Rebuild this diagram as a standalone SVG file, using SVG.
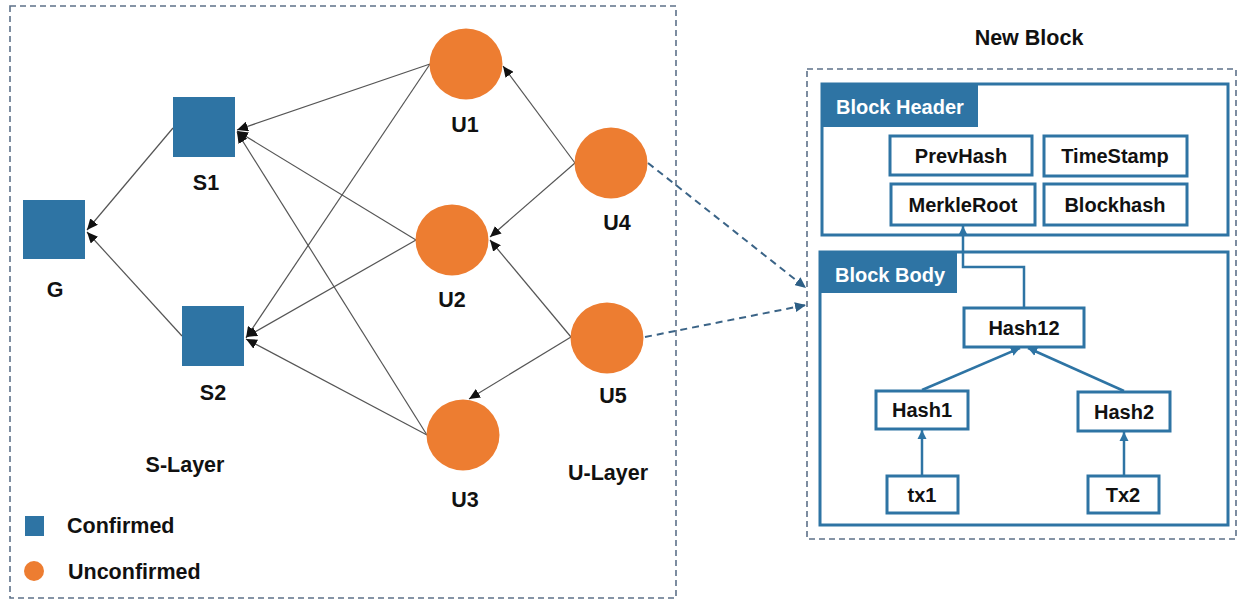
<svg xmlns="http://www.w3.org/2000/svg" width="1238" height="600" viewBox="0 0 1238 600">
  <style>
    .lbl { font-family: "Liberation Sans", Arial, sans-serif; font-weight: bold; font-size: 21.5px; fill: #111; }
    .box-lbl { font-family: "Liberation Sans", Arial, sans-serif; font-weight: bold; font-size: 20px; fill: #111; text-anchor: middle; }
    .tab-lbl { font-family: "Liberation Sans", Arial, sans-serif; font-weight: bold; font-size: 20px; fill: #fff; }
    .frame { fill: none; stroke: #5d7189; stroke-width: 1.6; stroke-dasharray: 6 4; }
    .sq { fill: #2e74a4; }
    .circ { fill: #ed7d31; }
    .panel { fill: #fff; stroke: #2e74a4; stroke-width: 3; }
    .tab { fill: #2e74a4; }
    .field { fill: #fff; stroke: #2e74a4; stroke-width: 3; }
    .edge { fill: none; stroke: #555; stroke-width: 1.2; marker-end: url(#ah); }
    .link { fill: none; stroke: #3b6487; stroke-width: 2; stroke-dasharray: 7 5; marker-end: url(#ahd); }
    .tree { fill: none; stroke: #2e74a4; stroke-width: 2.5; marker-end: url(#ahb); }
  </style>
  <defs>
    <marker id="ah" markerUnits="userSpaceOnUse" markerWidth="12" markerHeight="10" refX="11" refY="5" orient="auto">
      <path d="M0,0 L11,5 L0,10 z" fill="#111"/>
    </marker>
    <marker id="ahd" markerUnits="userSpaceOnUse" markerWidth="12" markerHeight="10" refX="11" refY="5" orient="auto">
      <path d="M0,0 L11,5 L0,10 z" fill="#2d5f86"/>
    </marker>
    <marker id="ahb" markerUnits="userSpaceOnUse" markerWidth="10" markerHeight="10" refX="9" refY="5" orient="auto">
      <path d="M0,0.5 L9,5 L0,9.5 z" fill="#2e74a4"/>
    </marker>
  </defs>

  <rect width="1238" height="600" fill="#fff"/>

  <!-- layered DAG frame -->
  <rect class="frame" x="10" y="6" width="666" height="592"/>
  <!-- block frame -->
  <rect class="frame" x="807" y="69" width="429" height="470"/>
  <text class="lbl" x="1029" y="45" text-anchor="middle">New Block</text>

  <!-- connectors -->
  <g id="connectors">
    <line class="edge" x1="173" y1="128" x2="87" y2="230"/>
    <line class="edge" x1="182" y1="336" x2="87" y2="232"/>
    <line class="edge" x1="430" y1="64" x2="237" y2="130"/>
    <line class="edge" x1="416" y1="240" x2="237" y2="131"/>
    <line class="edge" x1="427" y1="435" x2="237" y2="132"/>
    <line class="edge" x1="430" y1="64" x2="246" y2="338"/>
    <line class="edge" x1="416" y1="240" x2="246" y2="337"/>
    <line class="edge" x1="427" y1="435" x2="246" y2="339"/>
    <line class="edge" x1="575" y1="163" x2="503" y2="66"/>
    <line class="edge" x1="575" y1="163" x2="490" y2="237"/>
    <line class="edge" x1="571" y1="337" x2="490" y2="240"/>
    <line class="edge" x1="571" y1="337" x2="469" y2="399"/>
    <line class="link" x1="648" y1="163" x2="806" y2="288"/>
    <line class="link" x1="645" y1="337" x2="806" y2="305"/>
  </g>

  <!-- confirmed nodes -->
  <g id="node-G"><rect class="sq" x="23" y="200" width="62" height="59"/><text class="lbl" x="55" y="297" text-anchor="middle">G</text></g>
  <g id="node-S1"><rect class="sq" x="173" y="97" width="62" height="60"/><text class="lbl" x="206" y="190" text-anchor="middle">S1</text></g>
  <g id="node-S2"><rect class="sq" x="182" y="306" width="62" height="60"/><text class="lbl" x="213" y="400" text-anchor="middle">S2</text></g>

  <!-- unconfirmed nodes -->
  <g id="node-U1"><ellipse class="circ" cx="466" cy="64" rx="36.5" ry="35.5"/><text class="lbl" x="465" y="132" text-anchor="middle">U1</text></g>
  <g id="node-U2"><ellipse class="circ" cx="452" cy="240" rx="36.5" ry="35.5"/><text class="lbl" x="452" y="307" text-anchor="middle">U2</text></g>
  <g id="node-U3"><ellipse class="circ" cx="463" cy="435" rx="36.5" ry="35.5"/><text class="lbl" x="465" y="507" text-anchor="middle">U3</text></g>
  <g id="node-U4"><ellipse class="circ" cx="611" cy="163" rx="36.5" ry="35.5"/><text class="lbl" x="617" y="230" text-anchor="middle">U4</text></g>
  <g id="node-U5"><ellipse class="circ" cx="607" cy="338" rx="36.5" ry="35.5"/><text class="lbl" x="613" y="403" text-anchor="middle">U5</text></g>

  <!-- layer captions and legend -->
  <g id="captions">
    <text class="lbl" x="185" y="472" text-anchor="middle">S-Layer</text>
    <text class="lbl" x="608" y="480" text-anchor="middle">U-Layer</text>
  </g>
  <g id="legend">
    <rect class="sq" x="25" y="516" width="19" height="20"/>
    <text class="lbl" x="67" y="533">Confirmed</text>
    <circle class="circ" cx="34" cy="571" r="10"/>
    <text class="lbl" x="68" y="579">Unconfirmed</text>
  </g>

  <!-- block header -->
  <g id="block-header">
    <rect class="panel" x="822" y="84" width="406" height="151"/>
    <rect class="tab" x="822" y="84" width="156" height="43"/>
    <text class="tab-lbl" x="836" y="114">Block Header</text>
  </g>
  <g id="field-prevhash"><rect class="field" x="890" y="136" width="142" height="39"/><text class="box-lbl" x="961" y="163">PrevHash</text></g>
  <g id="field-timestamp"><rect class="field" x="1044" y="136" width="143" height="40"/><text class="box-lbl" x="1115" y="163">TimeStamp</text></g>
  <g id="field-merkleroot"><rect class="field" x="891" y="184" width="144" height="41"/><text class="box-lbl" x="963" y="212">MerkleRoot</text></g>
  <g id="field-blockhash"><rect class="field" x="1044" y="184" width="143" height="41"/><text class="box-lbl" x="1115" y="212">Blockhash</text></g>

  <!-- block body -->
  <g id="block-body">
    <rect class="panel" x="820" y="252" width="408" height="273"/>
    <rect class="tab" x="820" y="252" width="137" height="41"/>
    <text class="tab-lbl" x="835" y="282">Block Body</text>
  </g>

  <!-- merkle tree links -->
  <g id="tree-connectors">
    <polyline class="tree" points="1024,307 1024,267 963,267 963,226"/>
    <line class="tree" x1="922" y1="390" x2="1020" y2="348"/>
    <line class="tree" x1="1124" y1="391" x2="1028" y2="348"/>
    <line class="tree" x1="922" y1="475" x2="922" y2="430"/>
    <line class="tree" x1="1124" y1="475" x2="1124" y2="432"/>
  </g>

  <g id="node-hash12"><rect class="field" x="964" y="308" width="120" height="39"/><text class="box-lbl" x="1024" y="335">Hash12</text></g>
  <g id="node-hash1"><rect class="field" x="876" y="391" width="92" height="38"/><text class="box-lbl" x="922" y="417">Hash1</text></g>
  <g id="node-hash2"><rect class="field" x="1078" y="392" width="92" height="39"/><text class="box-lbl" x="1124" y="419">Hash2</text></g>
  <g id="node-tx1"><rect class="field" x="887" y="476" width="71" height="37"/><text class="box-lbl" x="922" y="502">tx1</text></g>
  <g id="node-tx2"><rect class="field" x="1088" y="476" width="71" height="37"/><text class="box-lbl" x="1123" y="502">Tx2</text></g>
</svg>
